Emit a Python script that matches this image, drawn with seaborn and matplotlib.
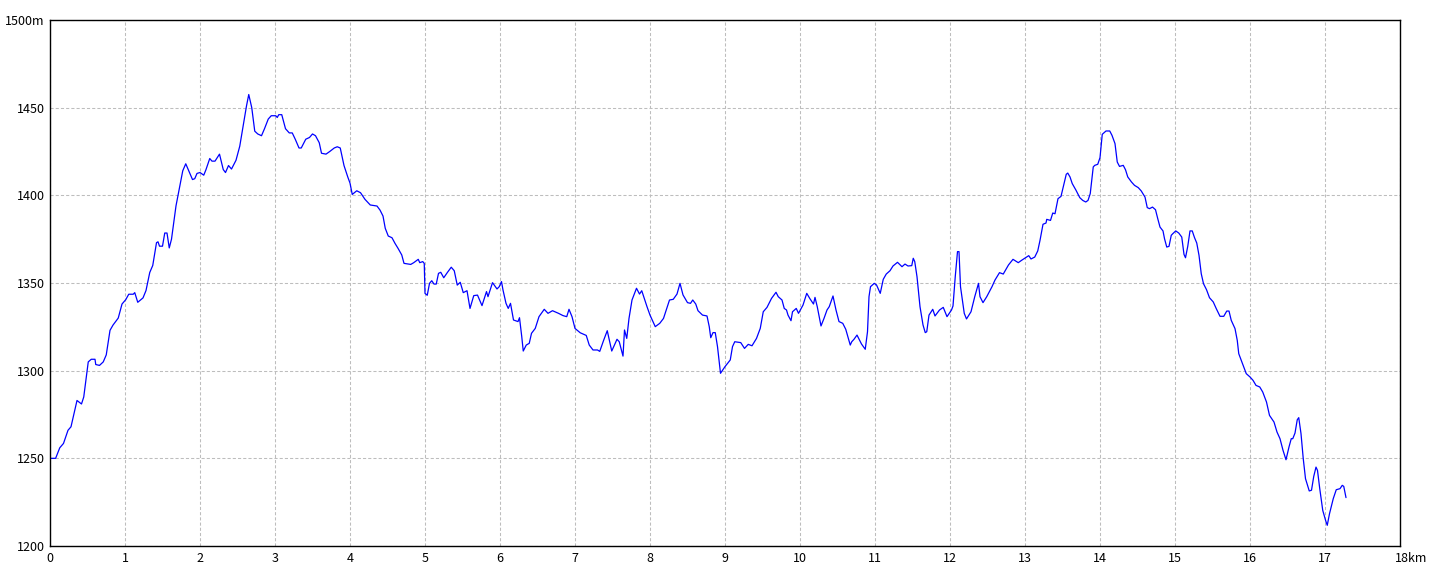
import numpy as np
import pandas as pd
import seaborn as sns
import matplotlib.pyplot as plt
from matplotlib.transforms import ScaledTranslation

# Elevation profile (distance km, elevation m)
dist_km = [
    0.00, 0.075, 0.13, 0.18, 0.24, 0.28, 0.36, 0.42, 0.45, 0.51, 0.55, 0.60, 0.61, 0.66, 0.71, 0.75,
    0.80, 0.84, 0.91, 0.96, 1.01, 1.05, 1.11, 1.13, 1.17, 1.24, 1.28, 1.33, 1.37, 1.42, 1.44, 1.46,
    1.50, 1.53, 1.56, 1.59, 1.62, 1.68, 1.73, 1.77, 1.81, 1.85, 1.90, 1.93, 1.96, 2.00, 2.05, 2.08,
    2.13, 2.16, 2.20, 2.26, 2.31, 2.34, 2.38, 2.42, 2.48, 2.53, 2.56, 2.62, 2.65, 2.69, 2.73, 2.77,
    2.82, 2.86, 2.91, 2.95, 3.01, 3.03, 3.05, 3.09, 3.14, 3.19, 3.23, 3.27, 3.32, 3.35, 3.41, 3.46,
    3.50, 3.54, 3.59, 3.62, 3.68, 3.73, 3.79, 3.83, 3.87, 3.92, 3.97, 4.00, 4.03, 4.09, 4.14, 4.20,
    4.27, 4.36, 4.40, 4.44, 4.47, 4.51, 4.56, 4.60, 4.64, 4.69, 4.72, 4.81, 4.85, 4.91, 4.93, 4.97,
    4.99, 5.00, 5.03, 5.06, 5.09, 5.12, 5.15, 5.18, 5.21, 5.25, 5.30, 5.35, 5.39, 5.43, 5.47, 5.51,
    5.56, 5.60, 5.65, 5.70, 5.76, 5.82, 5.84, 5.90, 5.96, 5.99, 6.02, 6.04, 6.08, 6.11, 6.14, 6.18,
    6.24, 6.26, 6.29, 6.31, 6.35, 6.39, 6.42, 6.47, 6.52, 6.59, 6.64, 6.70, 6.78, 6.84, 6.89, 6.92,
    6.96, 7.00, 7.07, 7.15, 7.19, 7.24, 7.30, 7.33, 7.38, 7.43, 7.49, 7.56, 7.59, 7.64, 7.66, 7.69,
    7.72, 7.76, 7.82, 7.86, 7.89, 7.96, 8.00, 8.07, 8.13, 8.18, 8.26, 8.31, 8.36, 8.40, 8.44, 8.50,
    8.54, 8.57, 8.61, 8.64, 8.70, 8.76, 8.79, 8.81, 8.84, 8.87, 8.90, 8.94, 9.00, 9.07, 9.10, 9.13,
    9.21, 9.26, 9.31, 9.36, 9.42, 9.47, 9.51, 9.56, 9.62, 9.68, 9.71, 9.76, 9.79, 9.82, 9.84, 9.88,
    9.90, 9.95, 9.98, 10.04, 10.09, 10.13, 10.18, 10.20, 10.23, 10.28, 10.32, 10.36, 10.39, 10.44,
    10.48, 10.52, 10.57, 10.61, 10.67, 10.69, 10.72, 10.76, 10.82, 10.87, 10.90, 10.92, 10.94, 10.99,
    11.02, 11.07, 11.11, 11.15, 11.20, 11.24, 11.30, 11.36, 11.40, 11.44, 11.49, 11.51, 11.53, 11.56,
    11.60, 11.64, 11.67, 11.69, 11.72, 11.77, 11.80, 11.86, 11.91, 11.96, 12.02, 12.04, 12.07, 12.10,
    12.12, 12.14, 12.19, 12.22, 12.28, 12.33, 12.38, 12.40, 12.44, 12.49, 12.56, 12.60, 12.66, 12.71,
    12.78, 12.84, 12.91, 12.96, 13.02, 13.05, 13.08, 13.13, 13.17, 13.20, 13.24, 13.28, 13.29, 13.34,
    13.37, 13.40, 13.44, 13.48, 13.52, 13.55, 13.57, 13.60, 13.63, 13.68, 13.73, 13.77, 13.81, 13.84,
    13.87, 13.91, 13.93, 13.97, 14.00, 14.03, 14.08, 14.13, 14.16, 14.20, 14.23, 14.26, 14.31, 14.34,
    14.37, 14.42, 14.46, 14.51, 14.55, 14.60, 14.63, 14.66, 14.70, 14.74, 14.77, 14.80, 14.84, 14.86,
    14.89, 14.92, 14.95, 14.97, 15.01, 15.05, 15.09, 15.12, 15.14, 15.17, 15.20, 15.23, 15.26, 15.29,
    15.32, 15.35, 15.38, 15.42, 15.46, 15.51, 15.55, 15.60, 15.65, 15.69, 15.72, 15.75, 15.80, 15.83,
    15.85, 15.90, 15.95, 16.00, 16.04, 16.08, 16.13, 16.17, 16.22, 16.26, 16.32, 16.36, 16.40, 16.44,
    16.48, 16.52, 16.55, 16.57, 16.60, 16.63, 16.65, 16.68, 16.71, 16.74, 16.79, 16.82, 16.85, 16.88,
    16.90, 16.93, 16.97, 17.01, 17.03, 17.06, 17.11, 17.15, 17.20, 17.23, 17.25, 17.28,
]
elev_m = [
    1250, 1250, 1256, 1258.5, 1266, 1268, 1283, 1281, 1285, 1305, 1306.5, 1306.5, 1303.5, 1303, 1305, 1309,
    1323, 1326, 1330, 1338, 1340.5, 1343.6, 1343.6, 1344.5, 1339, 1341.5, 1345.7, 1356, 1360, 1373, 1373.5, 1371,
    1371, 1378.5, 1378.5, 1370, 1375, 1394, 1405, 1414, 1418, 1414, 1409, 1409.5, 1412.5, 1413, 1411.5, 1414.7,
    1421, 1419.5, 1419.5, 1423.5, 1414.7, 1413, 1417, 1415, 1420, 1428, 1435.6, 1451, 1457.5, 1450, 1436.6, 1435,
    1434, 1438, 1443.5, 1445.4, 1445.4, 1444.4, 1446, 1446, 1438, 1435.6, 1435.6, 1432, 1427, 1427, 1432, 1433,
    1435, 1434, 1430, 1424, 1423.5, 1425, 1427, 1427.7, 1427, 1417, 1410.5, 1407, 1400.5, 1402.6, 1401.5, 1397.7,
    1394.5, 1393.9, 1391.6, 1388.2, 1381.2, 1376.8, 1375.8, 1372.6, 1369.8, 1366, 1361.2, 1360.6, 1361.6, 1363.5, 1361.6, 1362.2,
    1361.2, 1344.1, 1343, 1349.8, 1351.3, 1349.4, 1349.4, 1355.5, 1356.1, 1353, 1356.1, 1359, 1357, 1348.8, 1350.4, 1344.5,
    1345.6, 1335.5, 1342.8, 1343.1, 1337.1, 1345.1, 1342.2, 1350.2, 1346.6, 1347.9, 1350.8, 1346, 1338.4, 1335.5, 1338.4, 1328.9,
    1328, 1330.2, 1319.4, 1311.2, 1314.6, 1315.6, 1321.3, 1324.1, 1330.8, 1335, 1332.7, 1334.2, 1332.7, 1331.4, 1330.8, 1335,
    1330.8, 1324.1, 1321.6, 1320.1, 1314.6, 1311.8, 1311.8, 1311, 1317.1, 1322.8, 1311.2, 1317.9, 1316.5, 1308.3, 1323.2, 1318.4,
    1329.8, 1340.3, 1347, 1343.7, 1345.6, 1336.5, 1331.7, 1325.1, 1327, 1329.8, 1340.3, 1340.7, 1343.7, 1349.8, 1343.2, 1338.8,
    1338.4, 1340.3, 1338, 1334.2, 1331.7, 1331.2, 1325.1, 1318.8, 1321.7, 1321.7, 1313.7, 1298.5, 1302.3, 1306.1, 1313.7, 1316.5,
    1316, 1312.7, 1315, 1314.2, 1318.4, 1324.1, 1333.6, 1336.1, 1341.2, 1344.7, 1342.2, 1340.3, 1335.5, 1334.6, 1331.7, 1328.5,
    1333.6, 1335.5, 1332.7, 1337.4, 1344.1, 1341.2, 1338, 1341.8, 1336.5, 1325.5, 1329.8, 1334.6, 1336.5, 1342.6,
    1334.6, 1328, 1327, 1323.6, 1314.6, 1316.5, 1317.9, 1320.3, 1315.2, 1312.2, 1322.2, 1342.2, 1347.9, 1349.8,
    1348.9, 1344.1, 1352.1, 1355.1, 1357, 1359.7, 1361.8, 1359.3, 1360.8, 1359.7, 1359.9, 1364.1, 1362.2, 1353.6,
    1336.5, 1326.1, 1321.7, 1322.2, 1331.7, 1335, 1331.2, 1334.6, 1336.1, 1330.8, 1334.6, 1336.9, 1353.6, 1367.9,
    1367.9, 1347.9, 1332.7, 1329.5, 1333.6, 1342.2, 1349.8, 1342.2, 1338.8, 1342.2, 1347.9, 1351.7, 1355.9, 1355.1,
    1360.3, 1363.5, 1361.6, 1363.1, 1364.8, 1365.6, 1363.7, 1364.8, 1368.3, 1374.3, 1383.5, 1384.2, 1386.3, 1385.7,
    1389.9, 1389.5, 1398.1, 1399.4, 1406.7, 1412, 1412.7, 1410.5, 1406.7, 1402.9, 1398.7, 1397.1, 1396.2, 1397.1,
    1401, 1416.2, 1417.1, 1417.7, 1421.5, 1434.8, 1436.7, 1436.7, 1434.2, 1429.5, 1419, 1416.5, 1417.1, 1414.6,
    1410.5, 1407.6, 1405.7, 1404.4, 1402.5, 1399, 1393, 1392.4, 1393.3, 1391.8, 1386.7, 1381.9, 1379.7, 1375.3,
    1370.5, 1370.9, 1377.2, 1378.1, 1379.7, 1378.5, 1376.2, 1366.3, 1364.4, 1370.9, 1379.7, 1379.7, 1375.9, 1372.8,
    1365.8, 1355.3, 1349.6, 1346.2, 1341.6, 1339.2, 1335.4, 1331, 1331, 1334, 1334, 1328.7, 1324, 1317.3,
    1309.7, 1304, 1298.3, 1296.4, 1294.5, 1291.6, 1290.7, 1287.8, 1282.1, 1274.5, 1270.7, 1265, 1261.2, 1254.6,
    1249.2, 1256.5, 1261.2, 1261.2, 1264.4, 1272, 1273.2, 1264.1, 1249.8, 1238.4, 1231.4, 1231.8, 1239.7, 1245,
    1243.1, 1232.7, 1220.3, 1214.3, 1211.8, 1218.4, 1227, 1232.1, 1232.7, 1234.6, 1234, 1227.6,
]

x_ticks = list(range(0, 19))
x_tick_labels = [str(v) for v in range(0, 18)] + ['18km']
y_ticks = [1200, 1250, 1300, 1350, 1400, 1450, 1500]
y_tick_labels = ['1200', '1250', '1300', '1350', '1400', '1450', '1500m']

df = pd.DataFrame({'km': dist_km, 'elev': elev_m})

sns.set_theme(style='white')
plt.rcParams['font.family'] = ['Noto Sans CJK JP', 'DejaVu Sans']

fig = plt.figure(figsize=(14.4, 5.76), dpi=100)
ax = fig.add_axes([50 / 1440, 30 / 576, 1350 / 1440, 526 / 576])

sns.lineplot(data=df, x='km', y='elev', ax=ax, color='#0000ff',
             linewidth=0.9, estimator=None, sort=False)

ax.set_xlim(0, 18)
ax.set_ylim(1200, 1500)
ax.set_xticks(x_ticks)
ax.set_xticklabels(x_tick_labels)
ax.set_yticks(y_ticks)
ax.set_yticklabels(y_tick_labels)
ax.set_xlabel('')
ax.set_ylabel('')

ax.grid(True, color='#bdbdbd', linestyle=(0, (3, 2)), linewidth=0.75)
ax.tick_params(axis='both', length=0, labelsize=9, colors='black', pad=4)
for s in ax.spines.values():
    s.set_color('black')
    s.set_linewidth(1.0)
    s.set_visible(True)

# "18km" sits with its digits starting at the last gridline position
last = ax.get_xticklabels()[-1]
last.set_horizontalalignment('left')
last.set_transform(last.get_transform() + ScaledTranslation(-0.05, 0, fig.dpi_scale_trans))

fig.savefig('out.png', dpi=100, facecolor='white')
